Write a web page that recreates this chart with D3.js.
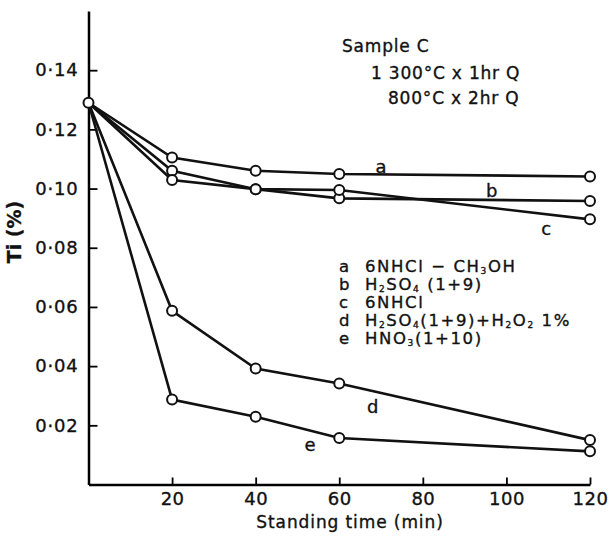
<!DOCTYPE html>
<html>
<head>
<meta charset="utf-8">
<script src="https://cdn.jsdelivr.net/npm/d3@7"></script>
<style>
  body { margin: 0; background: #fff; }
  text { font-family: "DejaVu Sans", sans-serif; fill: #111; stroke: #111; stroke-width: 0.35px; }
</style>
</head>
<body>
<div id="chart"></div>
<script>
// standing time (min) and Ti (%)
var times = [0, 20, 40, 60, 120];
var seriesA = [0.129, 0.1105, 0.106, 0.1049, 0.1041];
var seriesB = [0.129, 0.106, 0.0998, 0.0967, 0.0958];
var seriesC = [0.129, 0.1029, 0.0998, 0.0995, 0.0896];
var seriesD = [0.129, 0.0587, 0.0392, 0.0341, 0.015];
var seriesE = [0.129, 0.0287, 0.0229, 0.0157, 0.0112];
var seriesNames = ["a", "b", "c", "d", "e"];
var xTicks = [20, 40, 60, 80, 100, 120];
var yTicks = [0.02, 0.04, 0.06, 0.08, 0.10, 0.12, 0.14];
var yTickLabels = ["0·02", "0·04", "0·06", "0·08", "0·10", "0·12", "0·14"];

var width = 609, height = 545;

var svg = d3.select("#chart")
  .append("svg")
    .attr("width", width)
    .attr("height", height);

var x = d3.scaleLinear().domain([0, 120]).range([88.5, 590]);
var y = d3.scaleLinear().domain([0, 0.16]).range([484.5, 11]);

// axes, ticks point inward
svg.append("g")
  .attr("transform", "translate(" + x(0) + ",0)")
  .call(d3.axisLeft(y).tickValues(yTicks).tickSizeInner(-9).tickSizeOuter(0).tickPadding(10)
    .tickFormat(function(d, i) { return yTickLabels[i]; }))
  .call(function(g) {
    g.select(".domain").attr("stroke-width", 2.5);
    g.selectAll(".tick line").attr("stroke-width", 1.8);
    g.selectAll("text").attr("font-size", 18).attr("font-family", "DejaVu Sans").attr("letter-spacing", 0.8);
  });

svg.append("g")
  .attr("transform", "translate(0," + y(0) + ")")
  .call(d3.axisBottom(x).tickValues(xTicks).tickSizeInner(-7).tickSizeOuter(0).tickPadding(8))
  .call(function(g) {
    g.select(".domain").attr("stroke-width", 2.5);
    g.selectAll(".tick line").attr("stroke-width", 1.8);
    g.selectAll("text").attr("font-size", 18).attr("font-family", "DejaVu Sans").attr("letter-spacing", 0.5);
  });

// axis titles
svg.append("text")
  .attr("text-anchor", "middle")
  .attr("transform", "translate(" + 350 + "," + 528 + ")")
  .attr("font-size", 17)
  .attr("letter-spacing", 0.9)
  .text("Standing time  (min)");

svg.append("text")
  .attr("text-anchor", "middle")
  .attr("transform", "translate(" + 21 + "," + 232 + ")rotate(-90)")
  .attr("font-size", 19)
  .attr("font-weight", "bold")
  .text("Ti  (%)");

// lines
var allSeries = [seriesA, seriesB, seriesC, seriesD, seriesE];
var line = d3.line()
  .x(function(d, i) { return x(times[i]); })
  .y(function(d) { return y(d); });

svg.selectAll(".series")
  .data(allSeries)
  .enter().append("path")
    .attr("class", "series")
    .attr("fill", "none")
    .attr("stroke", "#111")
    .attr("stroke-width", 2.6)
    .attr("d", line);

// markers (the common starting point only once)
var pts = [];
allSeries.forEach(function(s, k) {
  s.forEach(function(v, i) {
    if (i > 0 || k == 0) pts.push([times[i], v]);
  });
});
svg.selectAll(".pt")
  .data(pts)
  .enter().append("circle")
    .attr("class", "pt")
    .attr("cx", function(d) { return x(d[0]); })
    .attr("cy", function(d) { return y(d[1]); })
    .attr("r", 5)
    .attr("fill", "#fff")
    .attr("stroke", "#111")
    .attr("stroke-width", 2);

// letters on the curves
var curveLabels = [[70, 0.1075], [96.5, 0.0993], [109.5, 0.0865], [68, 0.0262], [53, 0.0133]];
svg.selectAll(".clab")
  .data(curveLabels)
  .enter().append("text")
    .attr("class", "clab")
    .attr("x", function(d) { return x(d[0]); })
    .attr("y", function(d) { return y(d[1]); })
    .attr("dy", "0.35em")
    .attr("text-anchor", "middle")
    .attr("font-size", 18)
    .text(function(d, i) { return seriesNames[i]; });

// legend
var legend = svg.append("g").attr("font-size", 16.5).attr("letter-spacing", 1.6);
var legendRows = [
  [["6NHCl − CH", 0], ["3", 1], ["OH", 0]],
  [["H", 0], ["2", 1], ["SO", 0], ["4", 1], [" (1+9)", 0]],
  [["6NHCl", 0]],
  [["H", 0], ["2", 1], ["SO", 0], ["4", 1], ["(1+9)+H", 0], ["2", 1], ["O", 0], ["2", 1], [" 1%", 0]],
  [["HNO", 0], ["3", 1], ["(1+10)", 0]]
];
legendRows.forEach(function(row, i) {
  var yy = 266 + i * 18;
  legend.append("text").attr("x", 339).attr("y", yy).attr("dy", "0.35em").text(seriesNames[i]);
  var t = legend.append("text").attr("x", 365).attr("y", yy).attr("dy", "0.35em");
  row.forEach(function(p) {
    if (p[1]) {
      t.append("tspan").attr("font-size", 9).attr("baseline-shift", "-1.5").text(p[0]);
    } else {
      t.append("tspan").text(p[0]);
    }
  });
});

// sample note
var note = svg.append("g").attr("font-size", 17).attr("letter-spacing", 0.8);
note.append("text").attr("x", 342).attr("y", 46).attr("dy", "0.35em").text("Sample  C");
note.append("text").attr("x", 371).attr("y", 73).attr("dy", "0.35em").text("1 300°C x 1hr Q");
note.append("text").attr("x", 388).attr("y", 98).attr("dy", "0.35em").text("800°C x 2hr Q");
</script>
</body>
</html>
